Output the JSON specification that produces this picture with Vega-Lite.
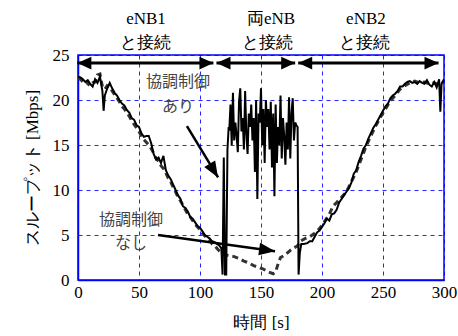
{
  "$schema": "https://vega.github.io/schema/vega-lite/v6.json",
  "width": 366,
  "height": 225,
  "autosize": "none",
  "padding": {"left": 78, "top": 55, "right": 14, "bottom": 56},
  "background": "white",
  "config": {
    "view": {"stroke": "#0000ff", "strokeWidth": 1.5},
    "font": "Liberation Serif"
  },
  "datasets": {
    "ari": [
      {"x":0,"y":22.6},{"x":2,"y":22.5},{"x":4,"y":22.3},{"x":6,"y":22.0},{"x":8,"y":22.2},{"x":10,"y":21.8},{"x":12,"y":21.5},{"x":14,"y":22.3},{"x":16,"y":21.9},{"x":18,"y":22.6},{"x":20,"y":21.0},{"x":21,"y":18.8},{"x":22,"y":20.5},{"x":24,"y":21.3},{"x":26,"y":21.9},{"x":28,"y":21.3},{"x":30,"y":20.8},{"x":32,"y":20.5},{"x":34,"y":20.0},{"x":36,"y":19.6},{"x":38,"y":19.4},{"x":40,"y":18.9},{"x":42,"y":18.6},{"x":44,"y":18.0},{"x":46,"y":17.8},{"x":48,"y":17.2},{"x":50,"y":17.0},{"x":52,"y":16.3},{"x":54,"y":15.9},{"x":56,"y":16.0},{"x":58,"y":16.0},{"x":60,"y":15.2},{"x":62,"y":14.0},{"x":64,"y":13.4},{"x":66,"y":13.6},{"x":68,"y":13.0},{"x":70,"y":13.8},{"x":72,"y":12.2},{"x":74,"y":11.6},{"x":76,"y":11.2},{"x":78,"y":10.6},{"x":80,"y":10.0},{"x":82,"y":9.4},{"x":84,"y":9.0},{"x":86,"y":8.2},{"x":88,"y":8.0},{"x":90,"y":7.6},{"x":92,"y":7.0},{"x":94,"y":6.8},{"x":96,"y":6.4},{"x":98,"y":6.0},{"x":100,"y":5.8},{"x":102,"y":5.4},{"x":104,"y":5.0},{"x":106,"y":4.8},{"x":108,"y":4.6},{"x":110,"y":4.3},{"x":112,"y":4.2},{"x":114,"y":4.0},{"x":116,"y":3.8},{"x":117.5,"y":3.5},{"x":118.5,"y":0.6},{"x":119.5,"y":13.6},{"x":120.5,"y":0.6},{"x":121.5,"y":0.6},{"x":122.5,"y":14.5},{"x":123.5,"y":17.0},
      {"x":124,"y":16.6},{"x":125,"y":19.5},{"x":126,"y":15.0},{"x":127,"y":20.8},{"x":128,"y":15.5},{"x":129,"y":17.5},{"x":130,"y":16.0},{"x":131,"y":14.2},{"x":132,"y":19.8},{"x":133,"y":21.3},{"x":134,"y":16.5},{"x":135,"y":18.0},{"x":136,"y":14.5},{"x":137,"y":21.0},{"x":138,"y":16.2},{"x":139,"y":14.0},{"x":140,"y":18.5},{"x":141,"y":17.0},{"x":142,"y":19.5},{"x":143,"y":15.5},{"x":144,"y":18.0},{"x":145,"y":12.0},{"x":146,"y":20.0},{"x":147,"y":9.0},{"x":148,"y":18.5},{"x":149,"y":17.5},{"x":150,"y":21.3},{"x":151,"y":15.0},{"x":152,"y":19.0},{"x":153,"y":13.0},{"x":154,"y":20.0},{"x":155,"y":17.0},{"x":156,"y":19.0},{"x":157,"y":14.5},{"x":158,"y":19.8},{"x":159,"y":12.5},{"x":160,"y":18.5},{"x":161,"y":9.3},{"x":162,"y":19.5},{"x":163,"y":13.0},{"x":164,"y":17.0},{"x":165,"y":15.0},{"x":166,"y":20.5},{"x":167,"y":13.5},{"x":168,"y":18.0},{"x":169,"y":16.0},{"x":170,"y":12.8},{"x":171,"y":17.5},{"x":172,"y":14.5},{"x":173,"y":20.3},{"x":174,"y":13.5},{"x":175,"y":18.5},{"x":176,"y":20.2},{"x":177,"y":15.5},{"x":178,"y":17.5},{"x":179,"y":17.2},{"x":180,"y":17.0},
      {"x":180.8,"y":0.6},{"x":181.8,"y":3.0},{"x":183,"y":4.0},{"x":185,"y":4.0},{"x":188,"y":4.1},{"x":190,"y":4.3},{"x":192,"y":4.3},{"x":194,"y":4.8},{"x":196,"y":5.3},{"x":198,"y":5.5},{"x":200,"y":5.9},{"x":202,"y":6.3},{"x":204,"y":6.8},{"x":206,"y":6.6},{"x":208,"y":7.3},{"x":210,"y":7.4},{"x":212,"y":7.8},{"x":214,"y":8.6},{"x":216,"y":9.0},{"x":218,"y":9.4},{"x":220,"y":9.8},{"x":222,"y":10.2},{"x":224,"y":10.8},{"x":226,"y":11.8},{"x":228,"y":12.2},{"x":230,"y":13.1},{"x":232,"y":13.8},{"x":234,"y":14.6},{"x":236,"y":15.0},{"x":238,"y":15.7},{"x":240,"y":16.3},{"x":242,"y":16.9},{"x":244,"y":17.3},{"x":246,"y":17.8},{"x":248,"y":18.3},{"x":250,"y":18.8},{"x":252,"y":19.3},{"x":254,"y":19.6},{"x":256,"y":20.2},{"x":258,"y":20.5},{"x":260,"y":20.7},{"x":262,"y":21.0},{"x":264,"y":21.5},{"x":266,"y":21.5},{"x":268,"y":21.8},{"x":270,"y":22.0},{"x":272,"y":22.1},{"x":274,"y":21.9},{"x":276,"y":22.0},{"x":278,"y":21.8},{"x":280,"y":22.1},{"x":282,"y":21.9},{"x":284,"y":21.8},{"x":286,"y":22.2},{"x":288,"y":21.7},{"x":290,"y":21.5},{"x":292,"y":22.0},{"x":294,"y":21.4},{"x":296,"y":22.3},{"x":297,"y":18.7},{"x":298,"y":21.8},{"x":300,"y":22.3}
    ],
    "nashi": [
      {"x":0,"y":22.4},{"x":2,"y":22.3},{"x":4,"y":22.0},{"x":6,"y":22.2},{"x":8,"y":21.8},{"x":10,"y":21.6},{"x":12,"y":21.9},{"x":14,"y":22.0},{"x":16,"y":22.8},{"x":18,"y":22.9},{"x":20,"y":21.5},{"x":22,"y":21.2},{"x":24,"y":21.6},{"x":26,"y":21.5},{"x":28,"y":21.0},{"x":30,"y":20.6},{"x":32,"y":20.2},{"x":34,"y":19.8},{"x":36,"y":19.3},{"x":38,"y":19.0},{"x":40,"y":18.6},{"x":42,"y":18.2},{"x":44,"y":17.7},{"x":46,"y":17.3},{"x":48,"y":16.9},{"x":50,"y":16.5},{"x":52,"y":16.0},{"x":54,"y":15.6},{"x":56,"y":15.3},{"x":58,"y":15.0},{"x":60,"y":14.6},{"x":62,"y":14.1},{"x":64,"y":13.5},{"x":66,"y":13.2},{"x":68,"y":12.7},{"x":70,"y":12.4},{"x":72,"y":11.9},{"x":74,"y":11.3},{"x":76,"y":10.9},{"x":78,"y":10.3},{"x":80,"y":9.8},{"x":82,"y":9.2},{"x":84,"y":8.8},{"x":86,"y":8.3},{"x":88,"y":7.8},{"x":90,"y":7.3},{"x":92,"y":7.0},{"x":94,"y":6.6},{"x":96,"y":6.2},{"x":98,"y":5.9},{"x":100,"y":5.6},{"x":102,"y":5.2},{"x":104,"y":4.9},{"x":106,"y":4.6},{"x":108,"y":4.4},{"x":110,"y":4.0},{"x":112,"y":3.8},{"x":114,"y":3.5},{"x":116,"y":3.2},{"x":118,"y":3.0},{"x":120,"y":2.8},{"x":124,"y":2.7},{"x":128,"y":2.6},{"x":132,"y":2.4},{"x":136,"y":2.1},{"x":140,"y":1.9},{"x":144,"y":1.6},{"x":148,"y":1.4},{"x":152,"y":1.2},{"x":156,"y":0.9},{"x":160,"y":0.7},{"x":162,"y":0.9},{"x":164,"y":1.8},{"x":166,"y":2.5},{"x":170,"y":2.8},{"x":174,"y":3.3},{"x":176,"y":3.5},{"x":180,"y":3.8},{"x":182,"y":4.3},{"x":186,"y":4.6},{"x":190,"y":4.8},{"x":194,"y":5.2},{"x":198,"y":5.7},{"x":202,"y":6.5},{"x":206,"y":7.3},{"x":209,"y":8.2},{"x":212,"y":8.6},{"x":216,"y":9.2},{"x":220,"y":9.8},{"x":224,"y":10.9},{"x":228,"y":12.0},{"x":232,"y":13.4},{"x":236,"y":14.8},{"x":240,"y":16.0},{"x":244,"y":17.1},{"x":248,"y":18.1},{"x":252,"y":19.0},{"x":256,"y":19.9},{"x":260,"y":20.5},{"x":264,"y":21.2},{"x":268,"y":21.6},{"x":272,"y":21.9},{"x":276,"y":22.1},{"x":280,"y":21.9},{"x":284,"y":22.0},{"x":288,"y":21.8},{"x":292,"y":21.9},{"x":296,"y":21.7},{"x":300,"y":22.0}
    ],
    "spans": [
      {"x":-0.5,"x2":111,"y":24.1},
      {"x":113.5,"x2":178,"y":24.1},
      {"x":180.5,"x2":295.5,"y":24.1}
    ],
    "arrows": [
      {"name":"あり","x":89.3,"y":17.1,"x2":114.8,"y2":11.4},
      {"name":"なし","x":65.6,"y":5.0,"x2":161.5,"y2":3.2}
    ],
    "toplabels": [
      {"label":"eNB1","x":55.7,"y":29.0},
      {"label":"と接続","x":55.7,"y":26.3},
      {"label":"両eNB","x":158.2,"y":29.0},
      {"label":"と接続","x":155.7,"y":26.3},
      {"label":"eNB2","x":236,"y":29.0},
      {"label":"と接続","x":235,"y":26.3}
    ],
    "notes": [
      {"label":"協調制御","x":82,"y":22.0},
      {"label":"あり","x":82,"y":19.2},
      {"label":"協調制御","x":43.4,"y":6.7},
      {"label":"なし","x":43.4,"y":4.0}
    ]
  },
  "encoding": {
    "x": {
      "field": "x", "type": "quantitative",
      "scale": {"domain": [0, 300], "nice": false, "zero": false},
      "axis": {
        "values": [0, 50, 100, 150, 200, 250, 300],
        "title": "時間 [s]",
        "titleFontSize": 17, "titleFontWeight": "normal", "titleColor": "black",
        "titleFont": "Liberation Serif",
        "titlePadding": 14,
        "labelFont": "Liberation Serif", "labelFontSize": 17, "labelColor": "black",
        "labelPadding": 4, "ticks": false,
        "domainColor": "#0000ff", "domainWidth": 1.5,
        "grid": true, "gridColor": "#0000ff", "gridDash": [4, 4], "gridWidth": 1, "gridOpacity": 0.85,
        "labelFlush": false, "labelOverlap": false
      }
    },
    "y": {
      "field": "y", "type": "quantitative",
      "scale": {"domain": [0, 25], "nice": false},
      "axis": {
        "values": [0, 5, 10, 15, 20, 25],
        "title": "スループット [Mbps]",
        "titleFontSize": 17, "titleFontWeight": "normal", "titleColor": "black",
        "titleFont": "Liberation Serif",
        "titlePadding": 11,
        "labelFont": "Liberation Serif", "labelFontSize": 17, "labelColor": "black",
        "labelPadding": 9, "ticks": false,
        "domainColor": "#0000ff", "domainWidth": 1.5,
        "grid": true, "gridColor": "#0000ff", "gridDash": [4, 4], "gridWidth": 1, "gridOpacity": 0.85,
        "labelFlush": false, "labelOverlap": false
      }
    }
  },
  "layer": [
    {
      "data": {"name": "nashi"},
      "mark": {"type": "line", "color": "#333333", "strokeWidth": 3, "strokeDash": [6, 4], "clip": true}
    },
    {
      "data": {"name": "ari"},
      "mark": {"type": "line", "color": "black", "strokeWidth": 2, "clip": true}
    },
    {
      "data": {"name": "spans"},
      "mark": {"type": "rule", "color": "black", "strokeWidth": 3},
      "encoding": {"x2": {"field": "x2"}}
    },
    {
      "data": {"name": "spans"},
      "mark": {"type": "point", "shape": "M1,0L-1,-0.9L-1,0.9Z", "size": 196, "angle": 180, "xOffset": 7, "filled": true, "opacity": 1, "color": "black", "strokeWidth": 0}
    },
    {
      "data": {"name": "spans"},
      "mark": {"type": "point", "shape": "M1,0L-1,-0.9L-1,0.9Z", "size": 196, "angle": 0, "xOffset": -7, "filled": true, "opacity": 1, "color": "black", "strokeWidth": 0},
      "encoding": {"x": {"field": "x2", "type": "quantitative"}}
    },
    {
      "data": {"name": "arrows"},
      "mark": {"type": "rule", "color": "black", "strokeWidth": 2.5},
      "encoding": {"x2": {"field": "x2"}, "y2": {"field": "y2"}}
    },
    {
      "data": {"name": "arrows"},
      "transform": [{"filter": "datum.name === 'あり'"}],
      "mark": {"type": "point", "shape": "M1,0L-1,-0.8L-1,0.8Z", "size": 256, "angle": 58.7, "xOffset": -4.2, "yOffset": -6.8, "filled": true, "opacity": 1, "color": "black", "strokeWidth": 0},
      "encoding": {"x": {"field": "x2", "type": "quantitative"}, "y": {"field": "y2", "type": "quantitative"}}
    },
    {
      "data": {"name": "arrows"},
      "transform": [{"filter": "datum.name === 'なし'"}],
      "mark": {"type": "point", "shape": "M1,0L-1,-0.8L-1,0.8Z", "size": 256, "angle": 7.8, "xOffset": -7.9, "yOffset": -1.1, "filled": true, "opacity": 1, "color": "black", "strokeWidth": 0},
      "encoding": {"x": {"field": "x2", "type": "quantitative"}, "y": {"field": "y2", "type": "quantitative"}}
    },
    {
      "data": {"name": "toplabels"},
      "mark": {"type": "text", "fontSize": 17, "color": "black", "align": "center", "baseline": "middle", "font": "Liberation Serif"},
      "encoding": {"text": {"field": "label"}}
    },
    {
      "data": {"name": "notes"},
      "mark": {"type": "text", "fontSize": 16, "color": "#444444", "align": "center", "baseline": "middle", "font": "Noto Sans CJK JP"},
      "encoding": {"text": {"field": "label"}}
    }
  ]
}
